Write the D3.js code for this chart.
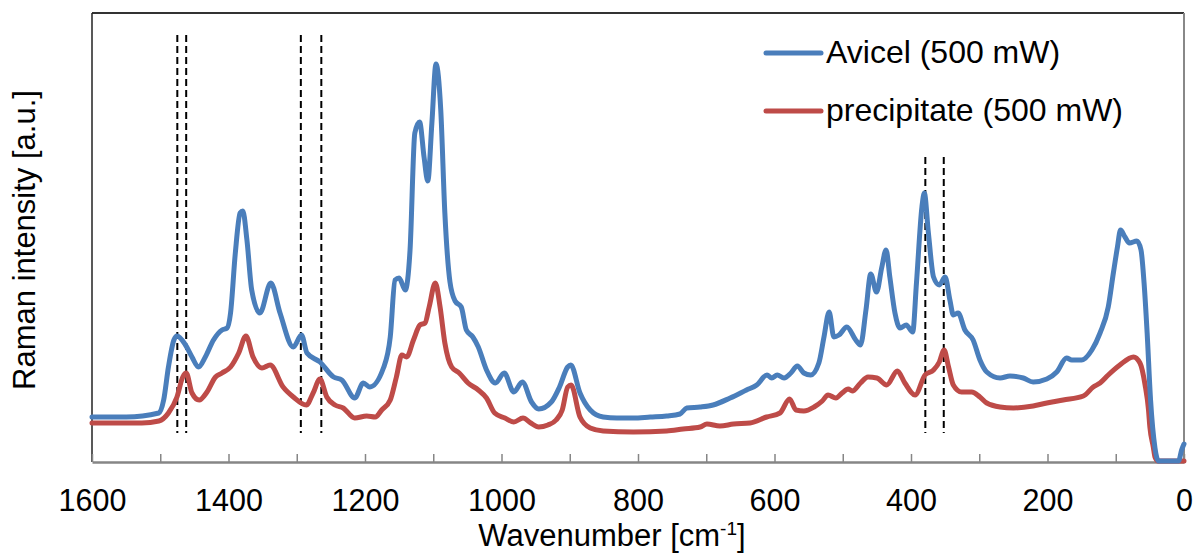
<!DOCTYPE html>
<html>
<head>
<meta charset="utf-8">
<script src="https://cdn.jsdelivr.net/npm/d3@7"></script>
<style>
  body { margin: 0; background: #fff; }
  svg { display: block; font-family: 'Liberation Sans', Arial, sans-serif; }
</style>
</head>
<body>
<svg id="chart" width="1194" height="556"></svg>
<script>
// Raman spectra (wavenumber in cm-1, intensity in a.u.)
const avicelWn = [1600, 1550, 1502, 1495, 1488, 1480, 1475.5, 1463, 1453.5, 1444, 1434, 1422, 1409.5, 1402, 1397, 1390,
  1383, 1379, 1373, 1366, 1354, 1338, 1324.5, 1305, 1293, 1285, 1266, 1246, 1234, 1215, 1202.5, 1193, 1173, 1163, 1156,
  1150, 1141, 1134, 1127, 1120, 1113.5, 1108, 1102, 1096, 1089, 1083, 1075.5, 1068, 1059, 1051.5, 1042, 1034, 1022, 1009,
  996, 982, 969.5, 956, 945.5, 927, 915, 903, 898.5, 885, 870, 851, 831, 807, 782, 758, 738.5, 728.5, 709, 690, 665, 641,
  626, 611, 604, 596, 586, 576, 566.5, 557, 547, 535, 527.5, 520, 513, 505.5, 494, 481, 474, 466, 459, 450.5, 443, 436.5,
  431, 423.5, 416, 407, 397.5, 392, 384, 380.5, 374.5, 367, 358.5, 350, 343, 338, 331, 321, 309, 299, 289, 269.5, 255,
  235.5, 221, 201, 186.5, 172, 164.5, 150, 135, 123, 111, 103.5, 97.5, 93, 86.5, 80, 69, 63, 58.5, 54, 49, 42.5, 37.5,
  8, 3.5, 0];
const avicelI = [45, 45, 49, 62, 95, 122, 126, 117, 105, 95, 105, 122, 132, 134, 149, 209,
  249, 251, 222, 172, 149, 179, 149, 115, 127, 109, 100, 85, 82, 64, 79, 75, 94, 125, 182,
  184, 172, 212, 329, 340, 305, 281, 339, 398, 352, 249, 180, 161, 155, 132, 125, 115, 92, 79,
  89, 70, 80, 60, 53, 60, 75, 95, 97, 69, 52, 45, 44, 44, 45, 46, 48, 54, 55, 57, 64, 72,
  77, 87, 84, 87, 84, 89, 96, 89, 87, 99, 125, 150, 125, 127, 135, 122, 117, 152, 188, 170, 194, 212,
  185, 149, 134, 137, 130, 179, 255, 269, 229, 185, 177, 185, 162, 147, 149, 132, 122, 102, 90, 84, 86,
  84, 80, 83, 90, 104, 102, 102, 112, 129, 155, 189, 215, 232, 225, 219, 221, 212, 179, 129, 62, 14, 1,
  1, 12, 18];

const precipWn = [1600, 1551, 1527, 1502, 1488, 1475.5, 1467, 1462, 1453.5, 1443, 1431.5, 1419, 1409.5, 1397, 1385, 1374.5,
  1364, 1351, 1339, 1320, 1305, 1286, 1276, 1266, 1256, 1244, 1232, 1215, 1197.5, 1185, 1175.5, 1163, 1154, 1146, 1139,
  1129, 1119.5, 1112, 1106, 1097, 1090, 1083, 1073, 1062, 1049, 1034, 1022, 1010, 995, 982, 968.5, 957, 945.5, 932, 920,
  911, 903, 898, 885, 870, 851, 807, 758, 734, 709, 699, 680, 660, 636, 611.5, 592, 578, 568.5, 557, 542, 530, 521.5,
  510, 501, 492, 486, 474, 463, 450, 435.5, 420, 409, 394, 379.5, 367, 358.5, 351.5, 345, 338, 326, 311, 299, 289, 269.5,
  250, 221, 201, 177, 147.5, 133, 123, 111, 94, 74, 64.5, 57, 52, 50, 45, 42.5, 38, 3.5, 0];
const precipI = [39, 39, 39, 41, 49, 65, 85, 89, 69, 62, 70, 85, 89, 95, 109, 126,
  105, 94, 97, 75, 65, 57, 69, 83, 65, 57, 54, 44, 46, 45, 52, 62, 85, 107, 105,
  122, 137, 139, 155, 179, 155, 119, 95, 89, 79, 72, 64, 49, 44, 40, 44, 39, 35, 37, 42,
  52, 75, 77, 45, 34, 31, 30, 31, 33, 35, 38, 36, 38, 39, 45, 49, 63, 52, 51, 55, 61, 67,
  64, 69, 73, 71, 79, 85, 84, 77, 91, 79, 67, 87, 92, 100, 112, 95, 77, 70, 70, 65, 59, 55,
  54, 56, 59, 62, 66, 75, 79, 87, 97, 105, 99, 77, 52, 35, 15, 5, 1, 1, 1];

const seriesNames = ['Avicel (500 mW)', 'precipitate (500 mW)'];
const seriesColors = ['#4a7ebb', '#be4b48'];

// dashed band markers
const markerWn = [1475, 1462, 1294, 1264, 379, 352];
const markerTop = [427, 427, 427, 427, 305, 305];
const markerBottom = 29;

const xTicks = d3.range(0, 1601, 100);
const xLabels = [0, 200, 400, 600, 800, 1000, 1200, 1400, 1600];

const padding = { top: 13, right: 10, bottom: 94, left: 92 };
const W = 1194, H = 556;
const width = W - padding.left - padding.right;
const height = H - padding.top - padding.bottom;

const svg = d3.select('#chart');
const canvas = svg.append('g').attr('transform', `translate(${padding.left},${padding.top})`);

const x = d3.scaleLinear().domain([1600, 0]).range([0, width]);
const y = d3.scaleLinear().domain([0, 449]).range([height, 0]);

// plot frame: dark top/left, grey right
canvas.append('line').attr('x1', 0).attr('x2', width).attr('y1', 0).attr('y2', 0)
  .attr('stroke', '#333').attr('stroke-width', 1.8);
canvas.append('line').attr('x1', 0).attr('x2', 0).attr('y1', 0).attr('y2', height)
  .attr('stroke', '#222').attr('stroke-width', 1.5);
canvas.append('line').attr('x1', width).attr('x2', width).attr('y1', 0).attr('y2', height)
  .attr('stroke', '#888').attr('stroke-width', 2);

// x axis, ticks pointing into the plot
const xAxis = canvas.append('g')
  .attr('transform', `translate(0,${height})`)
  .call(d3.axisBottom(x).tickValues(xTicks).tickSizeInner(-8).tickSizeOuter(0).tickPadding(27)
    .tickFormat(d => xLabels.includes(d) ? d : ''));
xAxis.select('.domain').attr('stroke', '#868686').attr('stroke-width', 2.5);
xAxis.selectAll('.tick line').attr('stroke', '#868686').attr('stroke-width', 1.5);
xAxis.selectAll('.tick text').attr('fill', '#000').attr('font-size', 30.5)
  .attr('font-family', "'Liberation Sans', Arial, sans-serif");

// dashed marker lines
canvas.selectAll('.marker')
  .data(markerWn)
  .enter().append('line')
  .attr('class', 'marker')
  .attr('x1', d => x(d)).attr('x2', d => x(d))
  .attr('y1', (d, i) => y(markerTop[i])).attr('y2', y(markerBottom))
  .attr('stroke', '#000').attr('stroke-width', 2).attr('stroke-dasharray', '7,4');

// spectra
const line = d3.line().x(d => x(d[0])).y(d => y(d[1])).curve(d3.curveMonotoneX);
const series = [d3.zip(avicelWn, avicelI), d3.zip(precipWn, precipI)];

series.slice().reverse().forEach((s, k) => {
  const i = series.length - 1 - k;
  canvas.append('path')
    .datum(s)
    .attr('fill', 'none')
    .attr('stroke', seriesColors[i])
    .attr('stroke-width', 5)
    .attr('stroke-linejoin', 'round')
    .attr('stroke-linecap', 'round')
    .attr('d', line);
});

// legend
const legend = svg.append('g').attr('transform', 'translate(766,53)');
seriesNames.forEach((name, i) => {
  const row = legend.append('g').attr('transform', `translate(0,${i * 58})`);
  row.append('line').attr('x1', 0).attr('x2', 55).attr('y1', 0).attr('y2', 0)
    .attr('stroke', seriesColors[i]).attr('stroke-width', 5).attr('stroke-linecap', 'round');
  row.append('text').attr('x', 60).attr('y', 10).attr('font-size', 32).attr('fill', '#000').text(name);
});

// axis titles
const xTitle = svg.append('text')
  .attr('x', 612).attr('y', 546)
  .attr('text-anchor', 'middle').attr('font-size', 31).attr('fill', '#000');
xTitle.append('tspan').text('Wavenumber [cm');
xTitle.append('tspan').attr('font-size', 19).attr('dy', -11).text('-1');
xTitle.append('tspan').attr('dy', 11).text(']');

svg.append('text')
  .attr('transform', `translate(35,240) rotate(-90)`)
  .attr('text-anchor', 'middle').attr('font-size', 31).attr('fill', '#000')
  .text('Raman intensity [a.u.]');
</script>
</body>
</html>
